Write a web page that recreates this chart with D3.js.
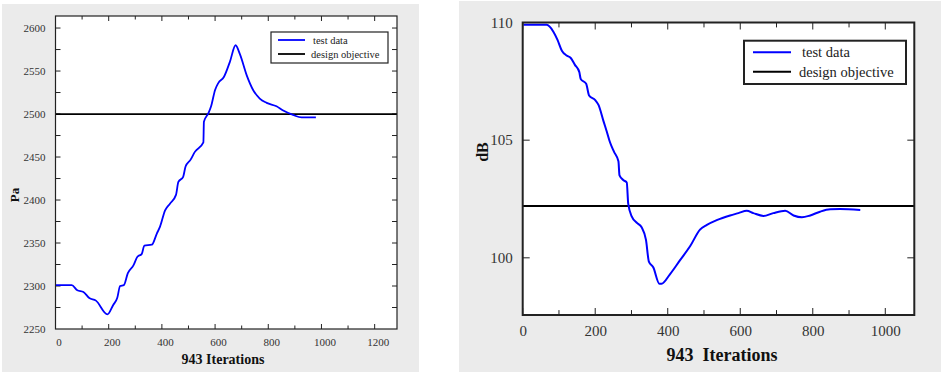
<!DOCTYPE html>
<html><head><meta charset="utf-8">
<script src="https://cdn.jsdelivr.net/npm/d3@7"></script>
<style>
html,body{margin:0;padding:0;background:#fff;}
svg{display:block;}
svg text{font-family:'Liberation Serif','Times New Roman',serif;}
</style></head>
<body>
<svg id="chart" width="941" height="374"></svg>
<script>
// ---------- Data ----------
const leftIterations = [0,61,82,105,127,152,195,217,232,243,257,272,293,308,324,334,362,381,393,412,431,453,462,480,489,508,524,556,558,575,585,600,612,633,656,677,694,719,743,768,794,831,856,893,925,979];
const leftPressure   = [2301,2301,2295,2293,2286,2283,2267,2278,2286,2300,2301,2315,2324,2334,2337,2347,2348,2361,2369,2388,2396,2406,2421,2427,2439,2447,2456,2467,2491,2501,2509,2528,2536,2543,2561,2580,2569,2545,2528,2518,2513,2509,2504,2499,2496,2496];
const leftObjective = 2500;
const leftXTicks = [0,200,400,600,800,1000,1200];
const leftYTicks = [2250,2300,2350,2400,2450,2500,2550,2600];

const rightIterations = [2,66,85,96,108,121,132,144,156,160,175,183,200,209,223,232,241,252,264,267,278,287,291,301,314,328,340,348,360,377,383,406,434,462,489,508,535,572,595,618,636,664,691,724,747,770,793,820,848,875,931];
const rightNoise      = [109.9,109.9,109.6,109.26,108.8,108.6,108.5,108.2,107.9,107.6,107.4,106.9,106.7,106.5,105.8,105.36,104.9,104.5,104.1,103.5,103.3,103.2,102.3,101.75,101.5,101.3,100.76,99.84,99.6,98.9,98.9,99.3,99.9,100.5,101.2,101.4,101.6,101.8,101.9,102.0,101.9,101.78,101.9,102.0,101.8,101.72,101.8,101.96,102.06,102.07,102.03];
const rightObjective = 102.2;
const rightXTicks = [0,200,400,600,800,1000];
const rightYTicks = [100,105,110];

const legendLabels = ["test data","design objective"];
const seriesColors = ["#0000ff","#000000"];

// ---------- Drawing ----------
const svg = d3.select("#chart");
const serif = "'Liberation Serif','Times New Roman',serif";

function panel(cfg){
  const g = svg.append("g");
  g.append("rect").attr("x",cfg.bg[0]).attr("y",cfg.bg[1]).attr("width",cfg.bg[2]).attr("height",cfg.bg[3]).attr("fill","#ebebeb");
  const x = d3.scaleLinear().domain(cfg.xDomain).range([cfg.left, cfg.right]);
  const y = d3.scaleLinear().domain(cfg.yDomain).range([cfg.bottom, cfg.top]);
  g.append("rect").attr("x",cfg.left).attr("y",cfg.top).attr("width",cfg.right-cfg.left).attr("height",cfg.bottom-cfg.top).attr("fill","#fff");

  const minorX = d3.range(0, cfg.xDomain[1], cfg.xMinor);
  const minorY = d3.range(cfg.yMinorStart, cfg.yDomain[1], cfg.yMinor);
  const tk = g.append("g").attr("stroke","#222").attr("stroke-width",1);
  minorX.forEach(v=>{
    const L = (v % cfg.xMajor === 0) ? cfg.tickLen : cfg.tickLen*0.7;
    tk.append("line").attr("x1",x(v)).attr("x2",x(v)).attr("y1",cfg.bottom).attr("y2",cfg.bottom-L);
    tk.append("line").attr("x1",x(v)).attr("x2",x(v)).attr("y1",cfg.top).attr("y2",cfg.top+L);
  });
  minorY.forEach(v=>{
    const L = cfg.tickLen;
    tk.append("line").attr("y1",y(v)).attr("y2",y(v)).attr("x1",cfg.left).attr("x2",cfg.left+L);
    tk.append("line").attr("y1",y(v)).attr("y2",y(v)).attr("x1",cfg.right).attr("x2",cfg.right-L);
  });

  const xa = g.append("g").attr("transform",`translate(0,${cfg.bottom})`)
    .call(d3.axisBottom(x).tickValues(cfg.xTicks).tickSize(0).tickPadding(cfg.xPad).tickFormat(d3.format("d")));
  xa.attr("font-family",null);
  xa.select(".domain").remove();
  xa.selectAll("text").style("font-family",serif).style("font-size",cfg.tickFont).attr("fill","#333").attr("dx",cfg.xDx);
  const ya = g.append("g").attr("transform",`translate(${cfg.left},0)`)
    .call(d3.axisLeft(y).tickValues(cfg.yTicks).tickSize(0).tickPadding(cfg.yPad).tickFormat(d3.format("d")));
  ya.attr("font-family",null);
  ya.select(".domain").remove();
  ya.selectAll("text").style("font-family",serif).style("font-size",cfg.tickFont).attr("fill","#333");

  g.append("line").attr("x1",cfg.left).attr("x2",cfg.right).attr("y1",y(cfg.objective)).attr("y2",y(cfg.objective))
    .attr("stroke",seriesColors[1]).attr("stroke-width",cfg.lineW);
  const pts = cfg.xs.map((d,i)=>[d,cfg.ys[i]]);
  g.append("path").datum(pts).attr("fill","none").attr("stroke",seriesColors[0]).attr("stroke-width",cfg.lineW)
    .attr("stroke-linejoin","round")
    .attr("d", d3.line().x(d=>x(d[0])).y(d=>y(d[1])).curve(d3.curveMonotoneX));

  g.append("rect").attr("x",cfg.left).attr("y",cfg.top).attr("width",cfg.right-cfg.left).attr("height",cfg.bottom-cfg.top)
    .attr("fill","none").attr("stroke","#222").attr("stroke-width",cfg.frameW);

  const lg = cfg.legend;
  g.append("rect").attr("x",lg.x).attr("y",lg.y).attr("width",lg.w).attr("height",lg.h).attr("fill","#fff")
    .attr("stroke","#222").attr("stroke-width",cfg.legendW);
  legendLabels.forEach((t,i)=>{
    const yy = lg.rowY[i];
    g.append("line").attr("x1",lg.lx1).attr("x2",lg.lx2).attr("y1",yy).attr("y2",yy).attr("stroke",seriesColors[i]).attr("stroke-width",cfg.lineW);
    g.append("text").attr("x",lg.tx[i]).attr("y",yy).attr("dy","0.35em").style("font-family",serif).style("font-size",lg.font).attr("fill","#222").text(t);
  });

  g.append("text").attr("x",cfg.xTitle[0]).attr("y",cfg.xTitle[1]).attr("text-anchor","middle").style("font-family",serif)
    .attr("font-weight","bold").style("font-size",cfg.titleFont).attr("fill","#111").style("white-space","pre").text(cfg.xLabel);
  g.append("text").attr("transform",`translate(${cfg.yTitle[0]},${cfg.yTitle[1]}) rotate(-90)`).attr("text-anchor","middle")
    .style("font-family",serif).attr("font-weight","bold").style("font-size",cfg.yTitleFont).attr("fill","#111").text(cfg.yLabel);
}

panel({
  bg:[2,4,417,368],
  left:55.5, right:397, top:16, bottom:329,
  xDomain:[0,1284], yDomain:[2250,2614],
  xTicks:leftXTicks, yTicks:leftYTicks,
  xMinor:100, xMajor:200, yMinor:25, yMinorStart:2275,
  tickLen:5, xPad:9, yPad:10, xDx:3, tickFont:"11px",
  xs:leftIterations, ys:leftPressure, objective:leftObjective,
  lineW:1.8, frameW:1.2, legendW:1.2,
  legend:{x:271,y:32,w:117,h:31,lx1:278,lx2:305,rowY:[40,54],tx:[313,311],font:"10.5px"},
  xTitle:[223,364], xLabel:"943 Iterations", titleFont:"14px",
  yTitle:[19,195], yLabel:"Pa", yTitleFont:"13px"
});

panel({
  bg:[459,1,482,371],
  left:522.7, right:914.3, top:22.5, bottom:315,
  xDomain:[0,1080], yDomain:[97.57,110],
  xTicks:rightXTicks, yTicks:rightYTicks,
  xMinor:100, xMajor:200, yMinor:5, yMinorStart:100,
  tickLen:7, xPad:10, yPad:10, xDx:0, tickFont:"15px",
  xs:rightIterations, ys:rightNoise, objective:rightObjective,
  lineW:2, frameW:2, legendW:2,
  legend:{x:744,y:40.7,w:162,h:43.3,lx1:753,lx2:791,rowY:[52.3,71.7],tx:[802,799],font:"14.5px"},
  xTitle:[722,361], xLabel:"943  Iterations", titleFont:"18px",
  yTitle:[488,152], yLabel:"dB", yTitleFont:"16px"
});
</script>
</body></html>
